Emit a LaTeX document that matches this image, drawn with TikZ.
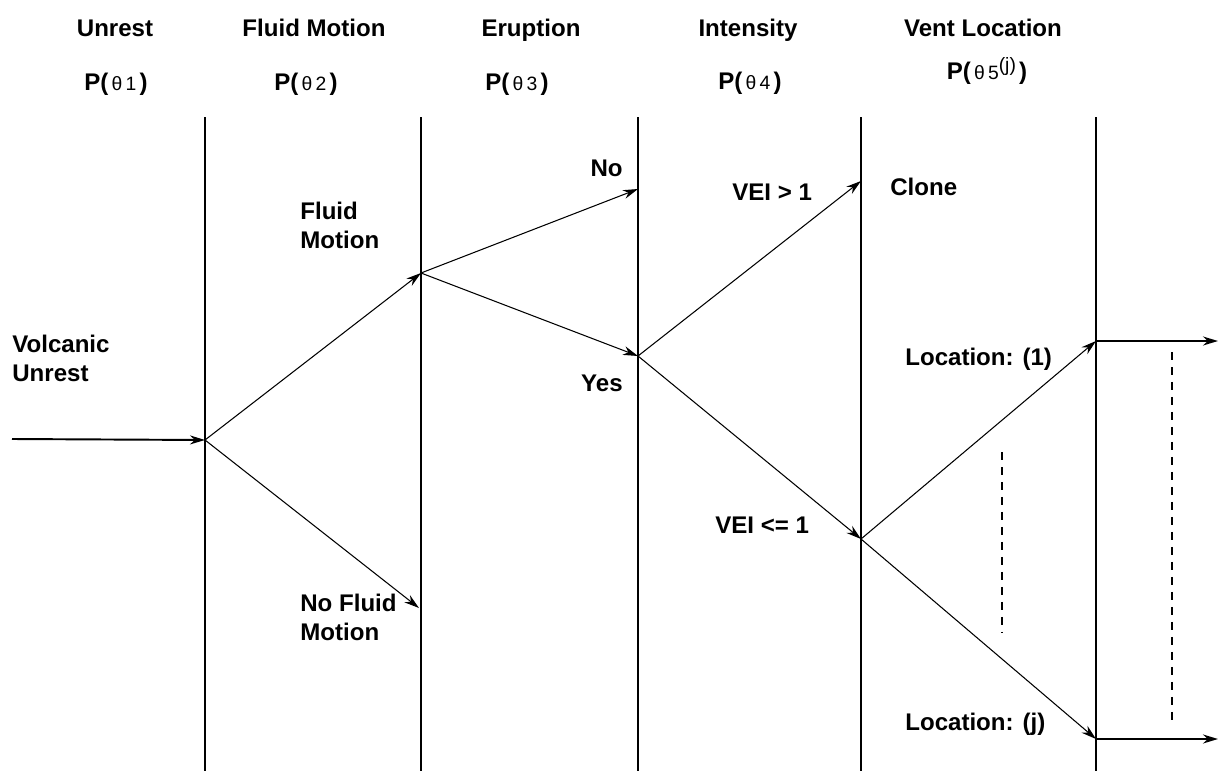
\documentclass[tikz,border=0pt]{standalone}
\usepackage{fontspec}
\setmainfont{Liberation Sans}
\usetikzlibrary{arrows.meta}
\tikzset{>={Stealth[length=3mm,width=1.8mm]}}
\tikzset{%
    lbl/.style={font=\bfseries\fontsize{13.7}{16.4}\selectfont, inner sep=0pt, align=left},
    hdr/.style={lbl, anchor=base},
    stage/.style={line width=1.1pt},
    branch/.style={->, line width=0.6pt},
    feed/.style={->, line width=1.1pt},
    gap/.style={dash pattern=on 0.16cm off 0.14cm, line width=0.9pt}
}
\newcommand{\probof}[1]{P({\mdseries\fontsize{11}{13}\selectfont\,θ\,#1\,})}

\begin{document}
\begin{tikzpicture}[x=0.02cm, y=-0.02cm]
\useasboundingbox (0,0) rectangle (1218,771);

% stage separators
\foreach \x/\n in {205/s1,421/s2,638/s3,861/s4,1096/s5} {
    \coordinate (\n top) at (\x,117);
    \coordinate (\n bot) at (\x,771);
    \draw[stage] (\n top) -- (\n bot);
}

% headers
\node[hdr] (h1) at (115,36.5) {Unrest};
\node[hdr] (h2) at (314,36.5) {Fluid Motion};
\node[hdr] (h3) at (531,36.5) {Eruption};
\node[hdr] (h4) at (748,36.5) {Intensity};
\node[hdr] (h5) at (983,36.5) {Vent Location};
\node[hdr] (p1) at (116,90) {\probof{1}};
\node[hdr] (p2) at (306,90) {\probof{2}};
\node[hdr] (p3) at (517,90) {\probof{3}};
\node[hdr] (p4) at (750,89) {\probof{4}};
\node[hdr] (p5) at (987,79) {\probof{5\raisebox{0.7ex}{(j)}}};

% branch points
\coordinate (start) at (12,439);
\coordinate (unrest) at (205,440);
\coordinate (fluid) at (421,273);
\coordinate (nofluid) at (419,608);
\coordinate (no) at (638,189);
\coordinate (yes) at (638,356);
\coordinate (big) at (861,181);
\coordinate (small) at (861,539);
\coordinate (loc1) at (1096,341);
\coordinate (locj) at (1096,739);
\coordinate (out1) at (1218,341);
\coordinate (outj) at (1218,739);

\draw[feed] (start) -- (unrest);
\draw[branch] (unrest) -- (fluid);
\draw[branch] (unrest) -- (nofluid);
\draw[branch] (fluid) -- (no);
\draw[branch] (fluid) -- (yes);
\draw[branch] (yes) -- (big);
\draw[branch] (yes) -- (small);
\draw[branch] (small) -- (loc1);
\draw[branch] (small) -- (locj);
\draw[feed] (loc1) -- (out1);
\draw[feed] (locj) -- (outj);

% more locations in between
\coordinate (d1a) at (1002,452);
\coordinate (d1b) at (1002,632);
\coordinate (d2a) at (1172,352);
\coordinate (d2b) at (1172,720);
\draw[gap] (d1a) -- (d1b);
\draw[gap] (d2a) -- (d2b);

% labels
\node[lbl, anchor=base west] (volc) at (12,381.5) {Volcanic\\Unrest};
\node[lbl, anchor=base west] (fm) at (300,248.5) {Fluid\\Motion};
\node[lbl, anchor=base west] (nfm) at (300,640.5) {No Fluid\\Motion};
\node[lbl, anchor=base east] (nolbl) at (623,176.5) {No};
\node[lbl, anchor=base east] (yeslbl) at (623,391.5) {Yes};
\node[lbl, anchor=base west] (vbig) at (732,200.5) {VEI > 1};
\node[lbl, anchor=base west] (vsmall) at (715,533.5) {VEI <= 1};
\node[lbl, anchor=base west] (clone) at (890,195) {Clone};
\node[lbl, anchor=base west] (l1) at (905,365.5) {Location: (1)};
\node[lbl, anchor=base west] (lj) at (905,730.5) {Location: (j)};
\end{tikzpicture}
\end{document}
